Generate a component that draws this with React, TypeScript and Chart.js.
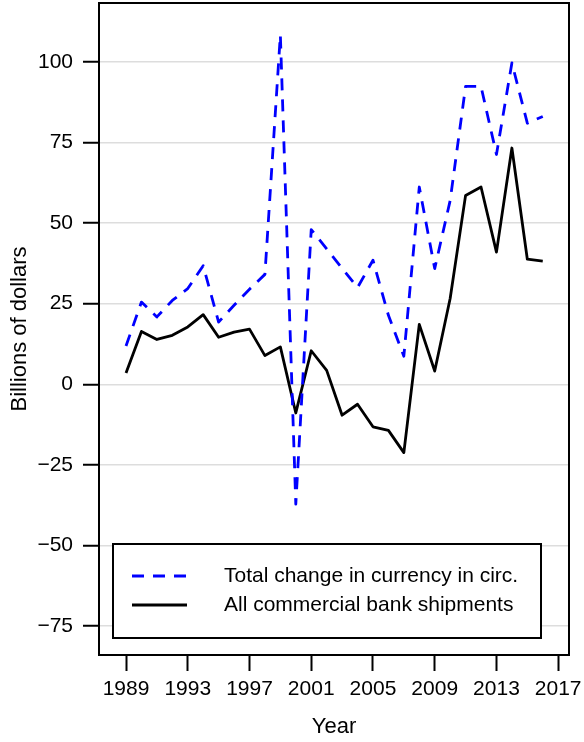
import React, { useEffect, useRef } from "react";
import { Chart, registerables } from "chart.js";

Chart.register(...registerables);

const years = [1989, 1990, 1991, 1992, 1993, 1994, 1995, 1996, 1997, 1998, 1999, 2000, 2001, 2002, 2003, 2004, 2005, 2006, 2007, 2008, 2009, 2010, 2011, 2012, 2013, 2014, 2015, 2016];
const currencyChange = [11.9, 25.5, 20.9, 26.0, 29.7, 36.8, 19.3, 24.5, 29.5, 34.1, 108.4, -37.2, 48.0, 42.0, 36.0, 30.0, 38.5, 21.4, 8.7, 61.2, 35.9, 57.0, 92.4, 92.4, 71.3, 99.7, 81.0, 83.1];
const bankShipments = [3.5, 16.4, 13.9, 15.2, 17.8, 21.6, 14.6, 16.2, 17.1, 8.9, 11.6, -8.9, 10.4, 4.3, -9.6, -6.2, -13.2, -14.3, -21.2, 18.6, 4.1, 26.6, 58.6, 61.2, 41.0, 73.3, 38.8, 38.2];
const xTickValues = [1989, 1993, 1997, 2001, 2005, 2009, 2013, 2017];
const yTickValues = [-75, -50, -25, 0, 25, 50, 75, 100];
const seriesLabels = ["Total change in currency in circ.", "All commercial bank shipments"];
const xTitle = "Year";
const yTitle = "Billions of dollars";

const FONT = "'Liberation Sans', Arial, Helvetica, sans-serif";
const FS = 21;
const TFS = 22;
const LW = 2.8;

const framePlugin = {
  id: "frameAndLegend",
  afterDraw(chart: any) {
    const ctx = chart.ctx;
    const ca = chart.chartArea;
    ctx.save();
    ctx.strokeStyle = "#000";
    ctx.lineWidth = 2;
    ctx.strokeRect(ca.left, ca.top, ca.right - ca.left, ca.bottom - ca.top);
    const lx = ca.left + 14;
    const ly = 544;
    const lw = 428;
    const lh = 94;
    ctx.fillStyle = "#fff";
    ctx.fillRect(lx, ly, lw, lh);
    ctx.strokeRect(lx, ly, lw, lh);
    const rows = [
      { y: ly + 32, color: "#0000ff", dash: [12, 9] },
      { y: ly + 61, color: "#000000", dash: [] as number[] },
    ];
    rows.forEach((r, i) => {
      ctx.beginPath();
      ctx.setLineDash(r.dash);
      ctx.strokeStyle = r.color;
      ctx.lineWidth = LW;
      ctx.moveTo(lx + 19, r.y);
      ctx.lineTo(lx + 74, r.y);
      ctx.stroke();
      ctx.setLineDash([]);
      ctx.fillStyle = "#000";
      ctx.font = `${FS}px ${FONT}`;
      ctx.textBaseline = "middle";
      ctx.textAlign = "left";
      ctx.fillText(seriesLabels[i], lx + 111, r.y);
    });
    ctx.restore();
  },
};

export default function App() {
  const ref = useRef<HTMLCanvasElement | null>(null);
  useEffect(() => {
    if (!ref.current) return;
    const fmt = (v: number) => (v < 0 ? "\u2212" + Math.abs(v) : String(v));
    const chart = new Chart(ref.current, {
      type: "line",
      data: {
        datasets: [
          {
            label: seriesLabels[0],
            data: years.map((y, i) => ({ x: y, y: currencyChange[i] })),
            borderColor: "#0000ff",
            borderWidth: LW,
            borderDash: [12, 9],
            pointRadius: 0,
            tension: 0,
            fill: false,
            borderJoinStyle: "round",
          },
          {
            label: seriesLabels[1],
            data: years.map((y, i) => ({ x: y, y: bankShipments[i] })),
            borderColor: "#000000",
            borderWidth: LW,
            pointRadius: 0,
            tension: 0,
            fill: false,
            borderJoinStyle: "round",
          },
        ],
      },
      options: {
        animation: false,
        responsive: false,
        maintainAspectRatio: false,
        layout: { padding: { top: 3, right: 15, left: 0, bottom: 0 } },
        plugins: { legend: { display: false }, tooltip: { enabled: false } },
        scales: {
          x: {
            type: "linear",
            min: 1987.25,
            max: 2017.7,
            afterBuildTicks: (s: any) => {
              s.ticks = xTickValues.map((v) => ({ value: v }));
            },
            afterFit: (s: any) => {
              s.height = 87;
              s.paddingLeft = 0;
              s.paddingRight = 0;
              s.paddingTop = 0;
              s.paddingBottom = 0;
            },
            grid: {
              drawOnChartArea: false,
              drawTicks: true,
              tickLength: 16,
              tickColor: "#000",
              tickWidth: 2,
            },
            border: { display: false },
            ticks: {
              autoSkip: false,
              maxRotation: 0,
              padding: 6,
              color: "#000",
              font: { size: FS, family: FONT },
              callback: (v: any) => String(v),
            },
            title: {
              display: true,
              text: xTitle,
              color: "#000",
              font: { size: TFS, family: FONT },
              padding: { top: 0, bottom: 2 },
            },
          },
          y: {
            type: "linear",
            min: -84,
            max: 118.3,
            afterBuildTicks: (s: any) => {
              s.ticks = yTickValues.map((v) => ({ value: v }));
            },
            afterFit: (s: any) => {
              s.width = 99;
              s.paddingLeft = 0;
              s.paddingRight = 0;
              s.paddingTop = 0;
              s.paddingBottom = 0;
            },
            grid: {
              color: "#dddddd",
              lineWidth: 1.5,
              drawTicks: true,
              tickLength: 16,
              tickColor: "#000",
              tickWidth: 2,
            },
            border: { display: false },
            ticks: {
              autoSkip: false,
              padding: 10,
              color: "#000",
              font: { size: FS, family: FONT },
              callback: (v: any) => fmt(Number(v)),
            },
            title: {
              display: true,
              text: yTitle,
              color: "#000",
              font: { size: TFS, family: FONT },
              padding: { top: 7, bottom: 0 },
            },
          },
        },
      },
      plugins: [framePlugin],
    } as any);
    return () => chart.destroy();
  }, []);
  return (
    <div style={{ position: "absolute", left: 0, top: 0, width: 584, height: 742, background: "#fff" }}>
      <canvas ref={ref} width={584} height={742} style={{ display: "block", width: 584, height: 742 }} />
    </div>
  );
}
